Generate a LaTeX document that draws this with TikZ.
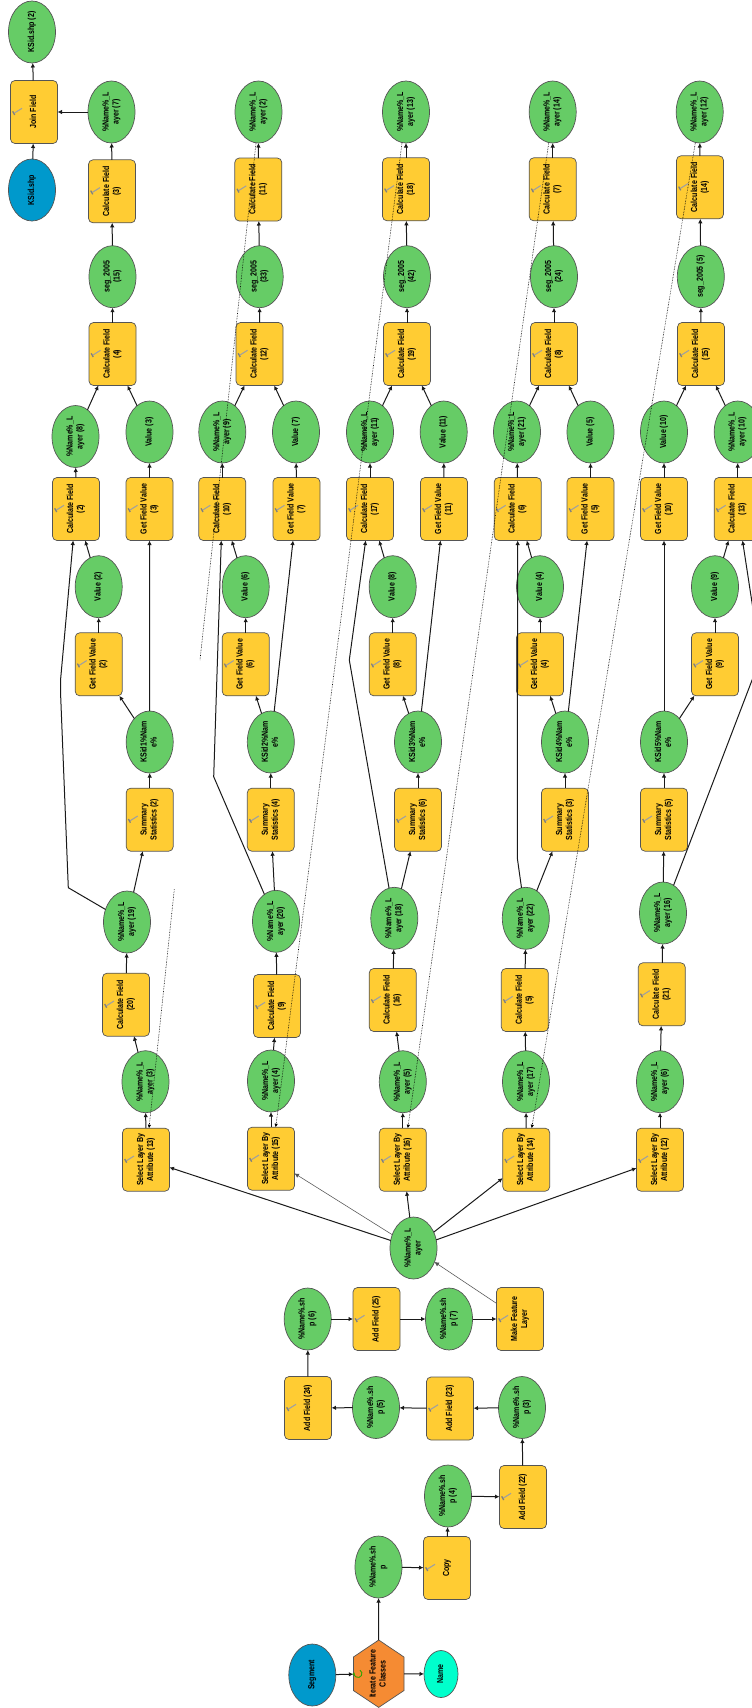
\documentclass[tikz,border=0pt]{standalone}
\usepackage{fontspec}
\usepackage{graphicx}
\setmainfont[FakeStretch=0.8]{Liberation Sans}
\usetikzlibrary{shapes.geometric,arrows.meta}
\definecolor{procY}{HTML}{FFCC33}
\definecolor{dataG}{HTML}{66CC66}
\definecolor{inB}{HTML}{0099CC}
\definecolor{iterO}{HTML}{F58B33}
\definecolor{valC}{HTML}{00FFCC}
\definecolor{edgeC}{HTML}{555555}
\definecolor{lineC}{HTML}{1A1A1A}
\definecolor{toolC}{HTML}{A0A0A0}
\newcommand{\rt}[1]{\rotatebox{90}{\fontsize{8.8}{10}\selectfont\bfseries\begin{tabular}{@{}c@{}}#1\end{tabular}}}
\tikzset{
  x=1pt,y=-1pt,
  base/.style={draw=edgeC,line width=.7pt,inner sep=0pt,outer sep=0pt,text=black},
  data/.style={base,ellipse,fill=dataG,minimum width=47pt,minimum height=62pt},
  input/.style={data,fill=inB},
  proc/.style={base,rectangle,rounded corners=4.5pt,fill=procY,minimum width=47pt,minimum height=63pt},
  hexnode/.style={rectangle,inner sep=0pt,outer sep=0pt,minimum width=50.6pt,minimum height=67.3pt},
  hexshape/.style={draw=edgeC,line width=.7pt,fill=iterO},
  valnode/.style={base,ellipse,fill=valC,minimum width=34pt,minimum height=47pt},
  conn/.style={draw=lineC,line width=1pt,-{Latex[length=4.5pt,width=4.5pt]}},
  thin conn/.style={conn,draw=lineC!75,line width=.55pt},
  dot conn/.style={draw=black,line width=.6pt,densely dotted,-{Latex[length=3.5pt,width=3.5pt]}},
  dot part/.style={draw=black,line width=.6pt,densely dotted},
  tool shaft/.style={draw=toolC,line width=1.1pt},
  tool head/.style={draw=toolC!80!black,line width=1.3pt},
}
\newcommand{\nl}[1]{\%Name\%\_L\\ayer #1}
\newcommand{\shp}[1]{\%Name\%.sh\\p #1}
\begin{document}
\begin{tikzpicture}
\path[use as bounding box,clip] (0,0) rectangle (752,1708);
\fill[white] (0,0) rectangle (752,1708);
% column 1
\node[data] (kso) at (32,32) {\rt{KSid.shp (2)}};
\node[proc] (join) at (34,112) {\rt{Join Field}};
\node[input] (ksi) at (32,190) {\rt{KSid.shp}};
\node[data] (l7) at (111.5,112) {\rt{\nl{(7)}}};
\node[proc] (cf3) at (112,191.3) {\rt{Calculate Field\\(3)}};
\node[data] (s15) at (112.5,276.7) {\rt{seg\_2005\\(15)}};
\node[proc] (cf4) at (112.5,354) {\rt{Calculate Field\\(4)}};
\node[data] (l8) at (75.5,436.5) {\rt{\nl{(8)}}};
\node[data] (v3) at (149.5,432) {\rt{Value (3)}};
\node[proc] (cf2) at (76,509) {\rt{Calculate Field\\(2)}};
\node[proc] (g3) at (149.5,509) {\rt{Get Field Value\\(3)}};
\node[data] (v2) at (98.7,586.7) {\rt{Value (2)}};
\node[proc] (g2) at (98.7,664.3) {\rt{Get Field Value\\(2)}};
\node[data] (k1) at (149.7,742) {\rt{KSid1\%Nam\\e\%}};
\node[proc] (ss2) at (149.7,819.7) {\rt{Summary\\Statistics (2)}};
\node[data] (l19) at (127,922) {\rt{\nl{(19)}}};
\node[proc] (cf20) at (126,1004.7) {\rt{Calculate Field\\(20)}};
\node[data] (l3) at (145.5,1081.7) {\rt{\nl{(3)}}};
\node[proc] (s13) at (146,1159.7) {\rt{Select Layer By\\Attribute (13)}};
% column 2
\node[data] (l2) at (258.5,112) {\rt{\nl{(2)}}};
\node[proc] (cf11) at (258.3,189.5) {\rt{Calculate Field\\(11)}};
\node[data] (s33) at (259.7,276.7) {\rt{seg\_2005\\(33)}};
\node[proc] (cf12) at (259.5,354) {\rt{Calculate Field\\(12)}};
\node[data] (l9) at (222.3,432) {\rt{\nl{(9)}}};
\node[data] (v7) at (296,432) {\rt{Value (7)}};
\node[proc] (cf10) at (222.3,509) {\rt{Calculate Field\\(10)}};
\node[proc] (g7) at (296.5,509) {\rt{Get Field Value\\(7)}};
\node[data] (v6) at (245.7,586.7) {\rt{Value (6)}};
\node[proc] (g6) at (245.7,664.3) {\rt{Get Field Value\\(6)}};
\node[data] (k2) at (270.8,742) {\rt{KSid2\%Nam\\e\%}};
\node[proc] (ss4) at (270.8,819.7) {\rt{Summary\\Statistics (4)}};
\node[data] (l20) at (276,921.3) {\rt{\nl{(20)}}};
\node[proc] (cf9) at (277,1006) {\rt{Calculate Field\\(9)}};
\node[data] (l4) at (271,1081) {\rt{\nl{(4)}}};
\node[proc] (s15b) at (271,1158.7) {\rt{Select Layer By\\Attribute (15)}};
% column 3
\node[data] (l13) at (406,112) {\rt{\nl{(13)}}};
\node[proc] (cf18) at (406,189.3) {\rt{Calculate Field\\(18)}};
\node[data] (s42) at (407,276.7) {\rt{seg\_2005\\(42)}};
\node[proc] (cf19) at (407,354) {\rt{Calculate Field\\(19)}};
\node[data] (l11) at (370,432) {\rt{\nl{(11)}}};
\node[data] (v11) at (443.7,432) {\rt{Value (11)}};
\node[proc] (cf17) at (370,509) {\rt{Calculate Field\\(17)}};
\node[proc] (g11) at (444,509) {\rt{Get Field Value\\(11)}};
\node[data] (v8) at (392.7,586.7) {\rt{Value (8)}};
\node[proc] (g8) at (392.7,664.3) {\rt{Get Field Value\\(8)}};
\node[data] (k3) at (418,742) {\rt{KSid3\%Nam\\e\%}};
\node[proc] (ss6) at (418,819.7) {\rt{Summary\\Statistics (6)}};
\node[data] (l18) at (394.3,918.3) {\rt{\nl{(18)}}};
\node[proc] (cf16) at (392.7,1000) {\rt{Calculate Field\\(16)}};
\node[data] (l5) at (402.8,1081.7) {\rt{\nl{(5)}}};
\node[proc] (s16) at (402.8,1159.7) {\rt{Select Layer By\\Attribute (16)}};
% column 4
\node[data] (l14) at (552.7,112) {\rt{\nl{(14)}}};
\node[proc] (cf7) at (552.7,189.3) {\rt{Calculate Field\\(7)}};
\node[data] (s24) at (554,276.7) {\rt{seg\_2005\\(24)}};
\node[proc] (cf8) at (554,354) {\rt{Calculate Field\\(8)}};
\node[data] (l21) at (517,432) {\rt{\nl{(21)}}};
\node[data] (v5) at (590.5,432) {\rt{Value (5)}};
\node[proc] (cf6) at (517.7,509) {\rt{Calculate Field\\(6)}};
\node[proc] (g5) at (590.5,509) {\rt{Get Field Value\\(5)}};
\node[data] (v4) at (540,586.7) {\rt{Value (4)}};
\node[proc] (g4) at (540,664.3) {\rt{Get Field Value\\(4)}};
\node[data] (k4) at (565,742) {\rt{KSid4\%Nam\\e\%}};
\node[proc] (ss3) at (565,819.7) {\rt{Summary\\Statistics (3)}};
\node[data] (l22) at (525.8,918.3) {\rt{\nl{(22)}}};
\node[proc] (cf5) at (524.8,1000) {\rt{Calculate Field\\(5)}};
\node[data] (l17) at (526,1081.7) {\rt{\nl{(17)}}};
\node[proc] (s14) at (526.2,1159.7) {\rt{Select Layer By\\Attribute (14)}};
% column 5
\node[data] (l12) at (699.7,112) {\rt{\nl{(12)}}};
\node[proc] (cf14) at (700,187.3) {\rt{Calculate Field\\(14)}};
\node[data] (s5) at (700.8,276.7) {\rt{seg\_2005 (5)}};
\node[proc] (cf15) at (701,354) {\rt{Calculate Field\\(15)}};
\node[data] (v10) at (664,432) {\rt{Value (10)}};
\node[data] (l10) at (737.7,432) {\rt{\nl{(10)}}};
\node[proc] (g10) at (664,509) {\rt{Get Field Value\\(10)}};
\node[proc] (cf13) at (737.7,509) {\rt{Calculate Field\\(13)}};
\node[data] (v9) at (715,586.7) {\rt{Value (9)}};
\node[proc] (g9) at (715,664.3) {\rt{Get Field Value\\(9)}};
\node[data] (k5) at (664,742) {\rt{KSid5\%Nam\\e\%}};
\node[proc] (ss5) at (664,819.7) {\rt{Summary\\Statistics (5)}};
\node[data] (l16) at (663,913) {\rt{\nl{(16)}}};
\node[proc] (cf21) at (661.8,994.3) {\rt{Calculate Field\\(21)}};
\node[data] (l6) at (660,1081.7) {\rt{\nl{(6)}}};
\node[proc] (s12) at (660,1159.7) {\rt{Select Layer By\\Attribute (12)}};
% bottom part
\node[data] (nl) at (413.5,1248) {\rt{\%Name\%\_L\\ayer}};
\node[data] (sh6) at (307.7,1319) {\rt{\shp{(6)}}};
\node[proc] (af25) at (376.5,1319) {\rt{Add Field (25)}};
\node[data] (sh7) at (449,1319) {\rt{\shp{(7)}}};
\node[proc] (mfl) at (520,1319) {\rt{Make Feature\\Layer}};
\node[proc] (af24) at (308,1408) {\rt{Add Field (24)}};
\node[data] (sh5) at (376,1407.5) {\rt{\shp{(5)}}};
\node[proc] (af23) at (450,1408.5) {\rt{Add Field (23)}};
\node[data] (sh3) at (522,1407.5) {\rt{\shp{(3)}}};
\node[data] (sh4) at (448,1496) {\rt{\shp{(4)}}};
\node[proc] (af22) at (523,1497) {\rt{Add Field (22)}};
\node[proc] (copy) at (447,1568) {\rt{Copy}};
\node[data] (sh) at (378.5,1567) {\rt{\shp{}}};
\node[input] (seg) at (312.3,1675) {\rt{Segment}};
\draw[hexshape] (378.7,1640) -- (404,1657) -- (404,1690.5) -- (378.7,1707.4) -- (353.4,1690.5) -- (353.4,1657) -- cycle;
\node[hexnode] (iter) at (378.7,1673.7) {\rt{Iterate Feature\\Classes}};
\node[valnode] (name) at (441,1674) {\rt{Name}};
\draw[green!55!black!80!yellow,line width=.9pt,-{Latex[length=2.5pt,width=3pt]}] (360,1670.2) arc[start angle=60,end angle=-200,radius=3.9pt];
% tool icons on the process boxes
\foreach \n in {join,cf3,cf4,cf2,g3,g2,ss2,cf20,s13,cf11,cf12,cf10,g7,g6,ss4,cf9,s15b,cf18,cf19,cf17,g11,g8,ss6,cf16,s16,cf7,cf8,cf6,g5,g4,ss3,cf5,s14,cf14,cf15,g10,cf13,g9,ss5,cf21,s12,af25,mfl,af24,af23,af22,copy}
{
  \draw[tool shaft] ([shift={(-19.5,1)}]\n.center) -- ([shift={(-12,-3.7)}]\n.center);
  \draw[tool head] ([shift={(-21.3,-.7)}]\n.center) -- ([shift={(-19.3,3)}]\n.center);
}
% waypoints and free ends
\coordinate (w19a) at (68.3,887.7);
\coordinate (w19b) at (60.7,696.7);
\coordinate (w19c) at (60.7,678.3);
\coordinate (w20) at (213.7,776.7);
\coordinate (w18) at (349.3,660);
\coordinate (w22) at (517.3,858);
\coordinate (w16) at (760.5,658);
\coordinate (breakA) at (200,660);
\coordinate (breakB) at (174.3,889.3);
% straight connectors
\foreach \a/\b in {ksi/join,join/kso,l7/join,cf3/l7,s15/cf3,cf4/s15,l8/cf4,v3/cf4,cf2/l8,g3/v3,v2/cf2,g2/v2,k1/g2,k1/g3,ss2/k1,l19/ss2,cf20/l19,l3/cf20,s13/l3,
 cf11/l2,s33/cf11,cf12/s33,l9/cf12,v7/cf12,cf10/l9,g7/v7,v6/cf10,g6/v6,k2/g6,k2/g7,ss4/k2,l20/ss4,cf9/l20,l4/cf9,s15b/l4,
 cf18/l13,s42/cf18,cf19/s42,l11/cf19,v11/cf19,cf17/l11,g11/v11,v8/cf17,g8/v8,k3/g8,k3/g11,ss6/k3,l18/ss6,cf16/l18,l5/cf16,s16/l5,
 cf7/l14,s24/cf7,cf8/s24,l21/cf8,v5/cf8,cf6/l21,g5/v5,v4/cf6,g4/v4,k4/g4,k4/g5,ss3/k4,l22/ss3,cf5/l22,l17/cf5,s14/l17,
 cf14/l12,s5/cf14,cf15/s5,v10/cf15,l10/cf15,g10/v10,cf13/l10,v9/cf13,g9/v9,k5/g9,k5/g10,ss5/k5,l16/ss5,cf21/l16,l6/cf21,s12/l6,
 nl/s13,nl/s16,nl/s14,nl/s12,sh7/mfl,af25/sh7,sh6/af25,af24/sh6,sh5/af24,af23/sh5,sh3/af23,af22/sh3,sh4/af22,copy/sh4,sh/copy,iter/sh,seg/iter,iter/name}
  {\draw[conn] (\a) -- (\b);}
\draw[thin conn] (nl) -- (s15b);
\draw[thin conn] (mfl) -- (nl);
% routed connectors
\draw[conn] (l19) -- (w19a) -- (w19b) -- (w19c) -- (cf2);
\draw[conn] (l20) -- (w20) -- (cf10);
\draw[conn] (l18) -- (w18) -- (cf17);
\draw[conn] (l22) -- (w22) -- (cf6);
\draw[conn] (l16) -- (w16) -- (cf13);
% dotted connectors
\draw[dot part] ([xshift=-2.5pt]l2.south) -- (breakA);
\draw[dot conn] (breakB) -- ([xshift=3pt]s13.north);
\draw[dot conn] ([xshift=-4pt]l13.south) -- ([xshift=4.7pt]s15b.north);
\draw[dot conn] ([xshift=-4pt]l14.south) -- ([xshift=5pt]s16.north);
\draw[dot conn] ([xshift=-4.4pt]l12.south) -- ([xshift=5.5pt]s14.north);
\end{tikzpicture}
\end{document}
